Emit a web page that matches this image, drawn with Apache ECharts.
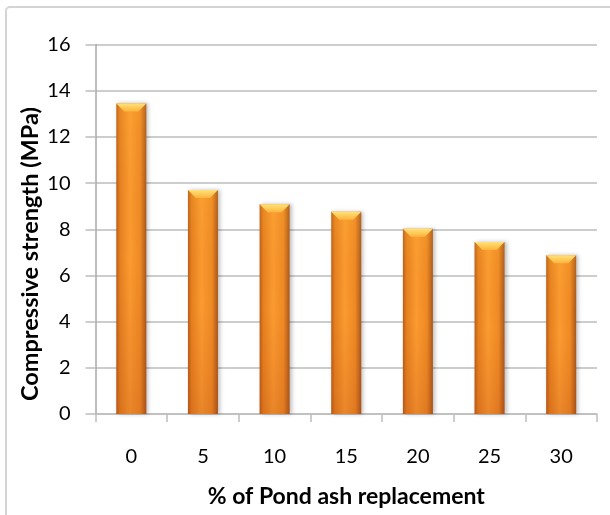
<!DOCTYPE html>
<html>
<head>
<meta charset="utf-8">
<title>Compressive strength vs pond ash replacement</title>
<script src="https://cdn.jsdelivr.net/npm/echarts@6/dist/echarts.min.js"></script>
<style>
  html, body { margin: 0; padding: 0; background: #ffffff; }
  #chart { width: 610px; height: 515px; }
</style>
</head>
<body>
<div id="chart"></div>
<script>
// Replacement levels (% of pond ash) and measured compressive strength (MPa)
const categories = ['0', '5', '10', '15', '20', '25', '30'];
const strength = [13.45, 9.7, 9.08, 8.76, 8.02, 7.45, 6.87];
const yTicks = { min: 0, max: 16, interval: 2 };
const xTitle = '% of Pond ash replacement';
const yTitle = 'Compressive strength (MPa)';

const FONT = 'Lato, "Open Sans", sans-serif';

const chart = echarts.init(document.getElementById('chart'), null, { renderer: 'canvas' });

// Horizontal shading gives the columns a rounded, cylinder-like look
const bodyFill = new echarts.graphic.LinearGradient(0, 0, 1, 0, [
  { offset: 0.0, color: '#b95c17' },
  { offset: 0.12, color: '#e5801f' },
  { offset: 0.45, color: '#fb9b30' },
  { offset: 0.8, color: '#ee8a24' },
  { offset: 1.0, color: '#a9561a' }
]);
// Darkening toward the base, laid over the body
const baseShade = new echarts.graphic.LinearGradient(0, 0, 0, 1, [
  { offset: 0.0, color: 'rgba(255,200,60,0.12)' },
  { offset: 0.5, color: 'rgba(200,70,20,0.0)' },
  { offset: 1.0, color: 'rgba(170,60,20,0.22)' }
]);
// Bevelled highlight on each column top
const capFill = new echarts.graphic.LinearGradient(0, 0, 0, 1, [
  { offset: 0, color: '#ffe27a' },
  { offset: 1, color: '#fdb43c' }
]);

const option = {
  backgroundColor: '#ffffff',
  animation: false,
  graphic: [
    {
      // outer frame of the chart area
      type: 'rect',
      shape: { x: 6, y: 7, width: 700, height: 600, r: 4 },
      style: { fill: 'none', stroke: '#d4d4d4', lineWidth: 2 },
      silent: true,
      z: -10
    },
    {
      // vertical axis title, set slightly below the plot centre
      type: 'text',
      x: 30,
      y: 254,
      rotation: Math.PI / 2,
      style: {
        text: yTitle,
        font: 'bold 23.5px ' + FONT,
        fill: '#000',
        align: 'center',
        verticalAlign: 'middle'
      },
      silent: true
    }
  ],
  grid: {
    left: 95.5, right: 13, top: 44.5, bottom: 101,
    containLabel: false,
    outerBoundsMode: 'none'
  },
  xAxis: {
    type: 'category',
    data: categories,
    name: xTitle,
    nameLocation: 'middle',
    nameGap: 71,
    nameTextStyle: { fontFamily: FONT, fontSize: 23, fontWeight: 'bold', color: '#000' },
    axisLine: { show: true, lineStyle: { color: '#bdbdbd', width: 1.5 } },
    axisTick: { show: true, length: 8, lineStyle: { color: '#bdbdbd', width: 1.5 } },
    axisLabel: { margin: 33, fontFamily: FONT, fontSize: 20, color: '#000' },
    splitLine: { show: false }
  },
  yAxis: {
    type: 'value',
    min: yTicks.min,
    max: yTicks.max,
    interval: yTicks.interval,
    axisLine: { show: true, lineStyle: { color: '#a8a8a8', width: 1.5 } },
    axisTick: { show: true, length: 10, lineStyle: { color: '#bdbdbd', width: 1.5 } },
    axisLabel: { margin: 25, fontFamily: FONT, fontSize: 20, color: '#000' },
    splitLine: { show: true, lineStyle: { color: '#bdbdbd', width: 1.5 } }
  },
  series: [
    {
      name: 'Compressive strength',
      type: 'bar',
      data: strength,
      barWidth: 30,
      itemStyle: {
        color: bodyFill,
        shadowColor: 'rgba(0,0,0,0.25)',
        shadowBlur: 4,
        shadowOffsetX: 2,
        shadowOffsetY: 0
      },
      z: 2
    },
    {
      name: 'shade',
      type: 'bar',
      data: strength,
      barWidth: 30,
      barGap: '-100%',
      itemStyle: { color: baseShade },
      silent: true,
      z: 3
    },
    {
      name: 'cap',
      type: 'pictorialBar',
      data: strength,
      symbol: 'path://M0,0 L30,0 L22,8 L8,8 Z',
      symbolSize: [30, 8],
      symbolPosition: 'end',
      itemStyle: { color: capFill },
      silent: true,
      z: 4
    }
  ]
};

chart.setOption(option);
</script>
</body>
</html>
